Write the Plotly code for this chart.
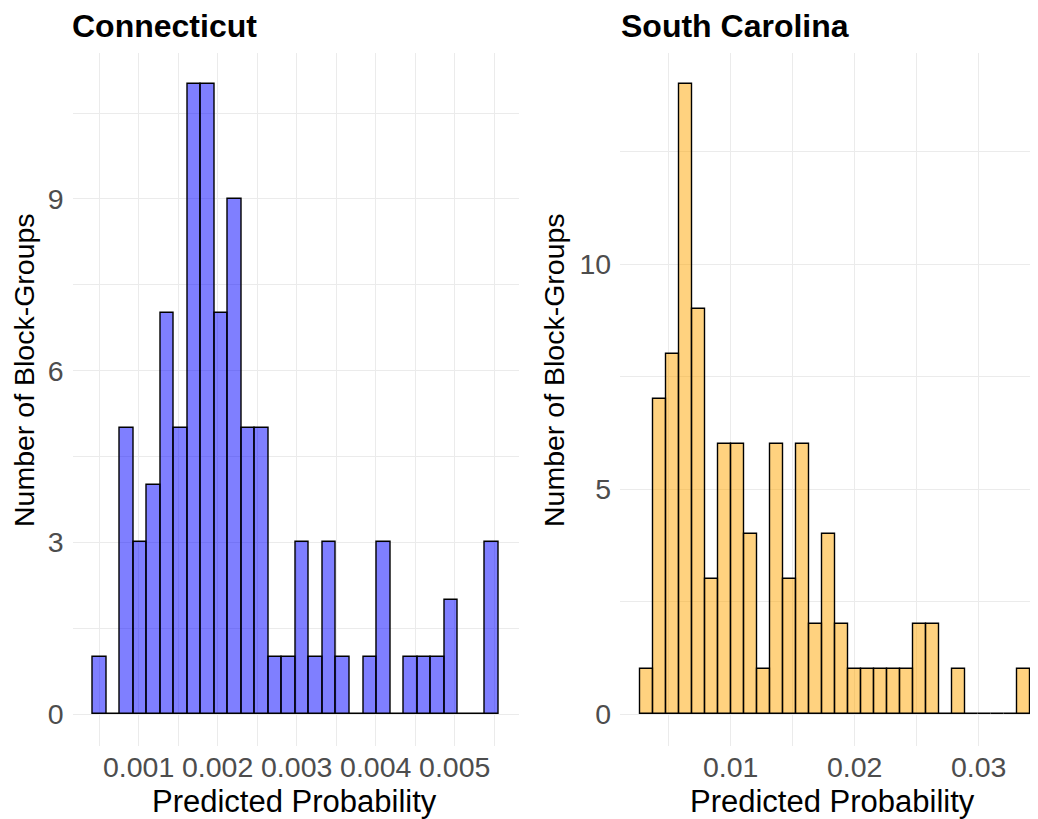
import plotly.graph_objects as go

# ---- data ----
ct_counts = [1, 0, 5, 3, 4, 7, 5, 11, 11, 7, 9, 5, 5, 1, 1, 3, 1, 3, 1, 0, 1, 3, 0, 1, 1, 1, 2, 0, 0, 3]
ct_bin_start = 0.000422
ct_bin_width = 0.000171

sc_counts = [1, 7, 8, 14, 9, 3, 6, 6, 4, 1, 6, 3, 6, 2, 4, 2, 1, 1, 1, 1, 1, 2, 2, 0, 1, 0, 0, 0, 0, 1]
sc_bin_start = 0.002661
sc_bin_width = 0.00105

titles = ["Connecticut", "South Carolina"]
x_title = "Predicted Probability"
y_title = "Number of Block-Groups"

OFF = 8  # page body margin in the browser
SW, SH = 1038, 819  # screen size
W, H = SW - OFF, SH - OFF
FONT = "Liberation Sans, Arial, sans-serif"
GRID = "#EBEBEB"
TICKC = "#4D4D4D"


def centers(start, width, n):
    return [start + width * (i + 0.5) for i in range(n)]


def expand(lo, hi, f=0.05):
    d = (hi - lo) * f
    return lo - d, hi + d


def px(x):  # screen x -> paper fraction
    return (x - OFF) / W


def py(y):  # screen y (top-down) -> paper fraction
    return (H - (y - OFF)) / H


fig = go.Figure()

fig.add_trace(go.Bar(
    x=centers(ct_bin_start, ct_bin_width, len(ct_counts)), y=ct_counts,
    width=[ct_bin_width] * len(ct_counts),
    marker=dict(color="rgba(0,0,255,0.5)", line=dict(color="black", width=1.4)),
    xaxis="x", yaxis="y", showlegend=False))

fig.add_trace(go.Bar(
    x=centers(sc_bin_start, sc_bin_width, len(sc_counts)), y=sc_counts,
    width=[sc_bin_width] * len(sc_counts),
    marker=dict(color="rgba(255,165,0,0.5)", line=dict(color="black", width=1.4)),
    xaxis="x2", yaxis="y2", showlegend=False))

# ranges (ggplot 5% expansion)
ct_xr = expand(ct_bin_start, ct_bin_start + ct_bin_width * len(ct_counts))
sc_xr_full = expand(sc_bin_start, sc_bin_start + sc_bin_width * len(sc_counts))
ct_yr = expand(0, max(ct_counts))
sc_yr = expand(0, max(sc_counts))

# screen-pixel layout of the panels
ct_px = (72.7, 518.6)
sc_px = (620.2, 1049.8)
y_px = (53.0, 745.7)  # top, bottom

# right panel is cut at the image edge
sc_xr = (sc_xr_full[0],
         sc_xr_full[0] + (SW - sc_px[0]) / (sc_px[1] - sc_px[0]) * (sc_xr_full[1] - sc_xr_full[0]))

ydom = [py(y_px[1]), py(y_px[0])]

tickfont = dict(family=FONT, size=28.5, color=TICKC)


def xaxis(dom, rng, dt, anchor):
    return dict(domain=dom, range=list(rng), dtick=dt, tick0=0, showgrid=True,
                gridcolor=GRID, gridwidth=1.4, zeroline=False, showline=False,
                ticks="", tickfont=tickfont, automargin=False, anchor=anchor,
                ticklabelstandoff=2,
                minor=dict(dtick=dt / 2, tick0=0, showgrid=True, gridcolor=GRID, gridwidth=1.1))


def yaxis(rng, dt, anchor):
    return dict(domain=ydom, range=list(rng), dtick=dt, tick0=0, showgrid=True,
                gridcolor=GRID, gridwidth=1.4, zeroline=False, showline=False,
                ticks="", tickfont=tickfont, automargin=False, anchor=anchor,
                ticklabelstandoff=8,
                minor=dict(dtick=dt / 2, tick0=0, showgrid=True, gridcolor=GRID, gridwidth=1.1))


fig.update_layout(
    width=W, height=H,
    margin=dict(l=0, r=0, t=0, b=0),
    paper_bgcolor="white", plot_bgcolor="white",
    bargap=0,
    xaxis=xaxis([px(ct_px[0]), px(ct_px[1])], ct_xr, 0.001, "y"),
    yaxis=yaxis(ct_yr, 3, "x"),
    xaxis2=xaxis([px(sc_px[0]), 1.0], sc_xr, 0.01, "y2"),
    yaxis2=yaxis(sc_yr, 5, "x2"),
    font=dict(family=FONT),
)

ann = []
# panel titles
for t, xp in zip(titles, [72.7 - 3, 621.7 - 3]):
    ann.append(dict(text="<b>" + t + "</b>", x=px(xp), y=py(26), xref="paper", yref="paper",
                    xanchor="left", yanchor="middle", showarrow=False,
                    font=dict(family=FONT, size=32, color="black")))
# x titles
for xc in [294.5, 832.5]:
    ann.append(dict(text=x_title, x=px(xc), y=py(801), xref="paper", yref="paper",
                    xanchor="center", yanchor="middle", showarrow=False,
                    font=dict(family=FONT, size=31, color="black")))
# y titles
for xc in [24, 554]:
    ann.append(dict(text=y_title, x=px(xc), y=py(370), xref="paper", yref="paper",
                    xanchor="center", yanchor="middle", textangle=-90, showarrow=False,
                    font=dict(family=FONT, size=28.5, color="black")))
fig.update_layout(annotations=ann)

fig.write_html("out.html")
